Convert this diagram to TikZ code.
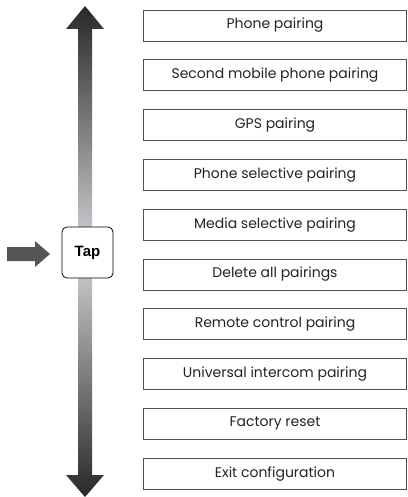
\documentclass[tikz,border=0pt]{standalone}
\usepackage{fontspec}
\setmainfont{Poppins}
\newfontfamily\tapfont{Liberation Sans}
\definecolor{boxgray}{RGB}{80, 80, 80}
\definecolor{textgray}{RGB}{35, 35, 35}
\definecolor{shaftdark}{RGB}{40, 40, 42}
\definecolor{shaftlight}{RGB}{212, 212, 216}
\definecolor{arrowgray}{RGB}{85, 85, 85}
\usetikzlibrary{shapes, arrows.meta, positioning, calc}

\begin{document}
\begin{tikzpicture}[
  x=1pt, y=-1pt,
  mbox/.style={draw=boxgray, line width=0.9pt, minimum width=263pt, minimum height=31pt, inner sep=0pt, text=textgray, font=\fontsize{14}{16}\selectfont},
  tapbox/.style={draw=black, fill=white, rounded corners=5pt, line width=0.8pt, minimum width=51pt, minimum height=51pt, inner sep=0pt, font=\tapfont\bfseries\fontsize{15}{17}\selectfont}
]
  \useasboundingbox (0,0) rectangle (407,497);
  % up/down arrow
  \shade[top color=shaftdark, bottom color=shaftdark, middle color=shaftlight]
    (78,29) -- (66,29) -- (85,6) -- (104,29) -- (92,29) -- (92,475) -- (104,475) -- (85,497) -- (66,475) -- (78,475) -- cycle;
  % entry arrow
  \fill[arrowgray] (7,247) -- (35,247) -- (35,241) -- (50,254) -- (35,267) -- (35,261) -- (7,261) -- cycle;
  \node[tapbox] (tap) at (87.5, 252.5) {Tap};
  % menu
  \node[mbox] (phone) at (275, 25.5) {Phone pairing};
  \node[mbox] (second) at (275, 75.3) {Second mobile phone pairing};
  \node[mbox] (gps) at (275, 125.1) {GPS pairing};
  \node[mbox] (phonesel) at (275, 174.9) {Phone selective pairing};
  \node[mbox] (mediasel) at (275, 224.7) {Media selective pairing};
  \node[mbox] (delete) at (275, 274.5) {Delete all pairings};
  \node[mbox] (remote) at (275, 324.3) {Remote control pairing};
  \node[mbox] (intercom) at (275, 374.1) {Universal intercom pairing};
  \node[mbox] (reset) at (275, 423.9) {Factory reset};
  \node[mbox] (exit) at (275, 473.7) {Exit configuration};
\end{tikzpicture}
\end{document}
